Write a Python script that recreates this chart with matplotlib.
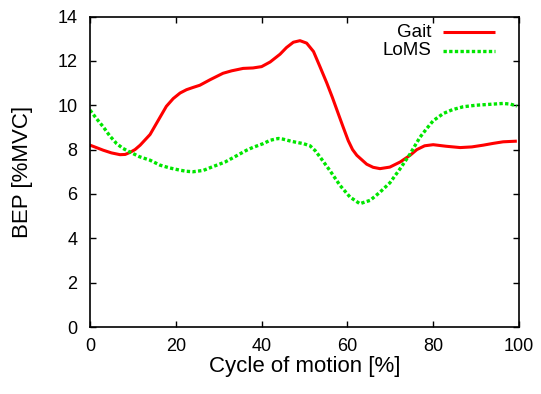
import matplotlib
matplotlib.use("Agg")
import matplotlib.pyplot as plt
from matplotlib.lines import Line2D

plt.rcParams['font.family'] = ['Liberation Sans', 'DejaVu Sans']

gait_x = [0, 3.1, 5, 7.0, 8.2, 9.3, 10.5, 11.7, 14, 16.3, 17.8, 19.4, 21, 22.5, 24, 25.6, 28,
          31, 33, 35.7, 38, 40, 42, 44.3, 45.8, 47.4, 48.95, 50.5, 52.1, 53.6, 55.2, 56.5, 58,
          59, 60.2, 61.2, 62.2, 64.5, 66, 67.6, 69.9, 72.3, 74.6, 76.2, 78, 80, 83, 86.3, 89,
          91.7, 94, 96.3, 99.5]
gait_y = [8.2, 7.97, 7.85, 7.77, 7.78, 7.87, 8.0, 8.2, 8.68, 9.45, 9.95, 10.3, 10.55, 10.7,
          10.8, 10.9, 11.15, 11.44, 11.55, 11.66, 11.68, 11.74, 11.95, 12.3, 12.6, 12.84, 12.91,
          12.8, 12.42, 11.74, 11.0, 10.35, 9.55, 9.02, 8.4, 8.0, 7.74, 7.34, 7.2, 7.14, 7.21,
          7.44, 7.74, 8.0, 8.17, 8.22, 8.15, 8.09, 8.12, 8.2, 8.28, 8.35, 8.38]

loms_x = [0, 1.5, 3.1, 4.6, 6.2, 7.7, 9.3, 11.5, 14, 16.3, 18.6, 21, 22.5, 24, 26.4, 28.5,
          31.5, 33.5, 36.5, 38, 40.4, 42, 43.9, 45, 46.6, 48, 49.7, 51.3, 52.5, 53.6, 55.9,
          58.3, 60.6, 62.9, 65.3, 67.6, 69.9, 72.3, 74.6, 76.9, 78.5, 80, 82.4, 84.5, 87, 90,
          93.2, 96.3, 98, 99.5]
loms_y = [9.78, 9.4, 9.02, 8.62, 8.27, 8.05, 7.89, 7.68, 7.52, 7.3, 7.17, 7.07, 7.02, 7.0,
          7.06, 7.22, 7.44, 7.65, 7.97, 8.1, 8.27, 8.42, 8.5, 8.47, 8.39, 8.33, 8.27, 8.17,
          7.95, 7.67, 7.06, 6.38, 5.86, 5.56, 5.71, 6.08, 6.5, 7.14, 7.8, 8.55, 8.95, 9.3,
          9.63, 9.8, 9.93, 10.0, 10.04, 10.08, 10.05, 9.96]

x_ticks = [0, 20, 40, 60, 80, 100]
y_ticks = [0, 2, 4, 6, 8, 10, 12, 14]
labels = ['Gait', 'LoMS']

red = '#ff0000'
green = '#00e600'
dots = (0, (1, 0.7))

fig = plt.figure(figsize=(5.41, 3.94), dpi=100)
ax = fig.add_axes([90/541, 1-327/394, 429/541, 310.5/394])

ax.plot(gait_x, gait_y, color=red, lw=2.2, solid_capstyle='butt', solid_joinstyle='round')
ax.plot(loms_x, loms_y, color=green, lw=2.4, linestyle=dots, dash_capstyle='butt')

ax.set_xlim(0, 100)
ax.set_ylim(0, 14)
ax.set_xticks(x_ticks)
ax.set_yticks(y_ticks)
ax.tick_params(direction='in', length=4, width=1, top=True, right=True,
               labelsize=13, colors='black')
ax.tick_params(axis='x', pad=8)
ax.tick_params(axis='y', pad=9)
for s in ax.spines.values():
    s.set_linewidth(1.2)

ax.set_xlabel('Cycle of motion [%]', fontsize=16)
ax.set_ylabel('BEP [%MVC]', fontsize=16)
ax.xaxis.set_label_coords(0.5, -0.095)
ax.yaxis.set_label_coords(-0.133, 0.5)

# legend (manual, gnuplot style: right-aligned text, sample to the right)
for i, (lab, col, ls, lw) in enumerate([(labels[0], red, '-', 2.2),
                                        (labels[1], green, dots, 2.4)]):
    yy = 0.950 - i * 0.061
    ax.text(0.7965, yy, lab, transform=ax.transAxes, ha='right', va='center', fontsize=13.5)
    ax.add_line(Line2D([0.8228, 0.944], [yy, yy], transform=ax.transAxes, color=col,
                       lw=lw, linestyle=ls, solid_capstyle='butt', dash_capstyle='butt'))

fig.savefig('out.png', dpi=100)
